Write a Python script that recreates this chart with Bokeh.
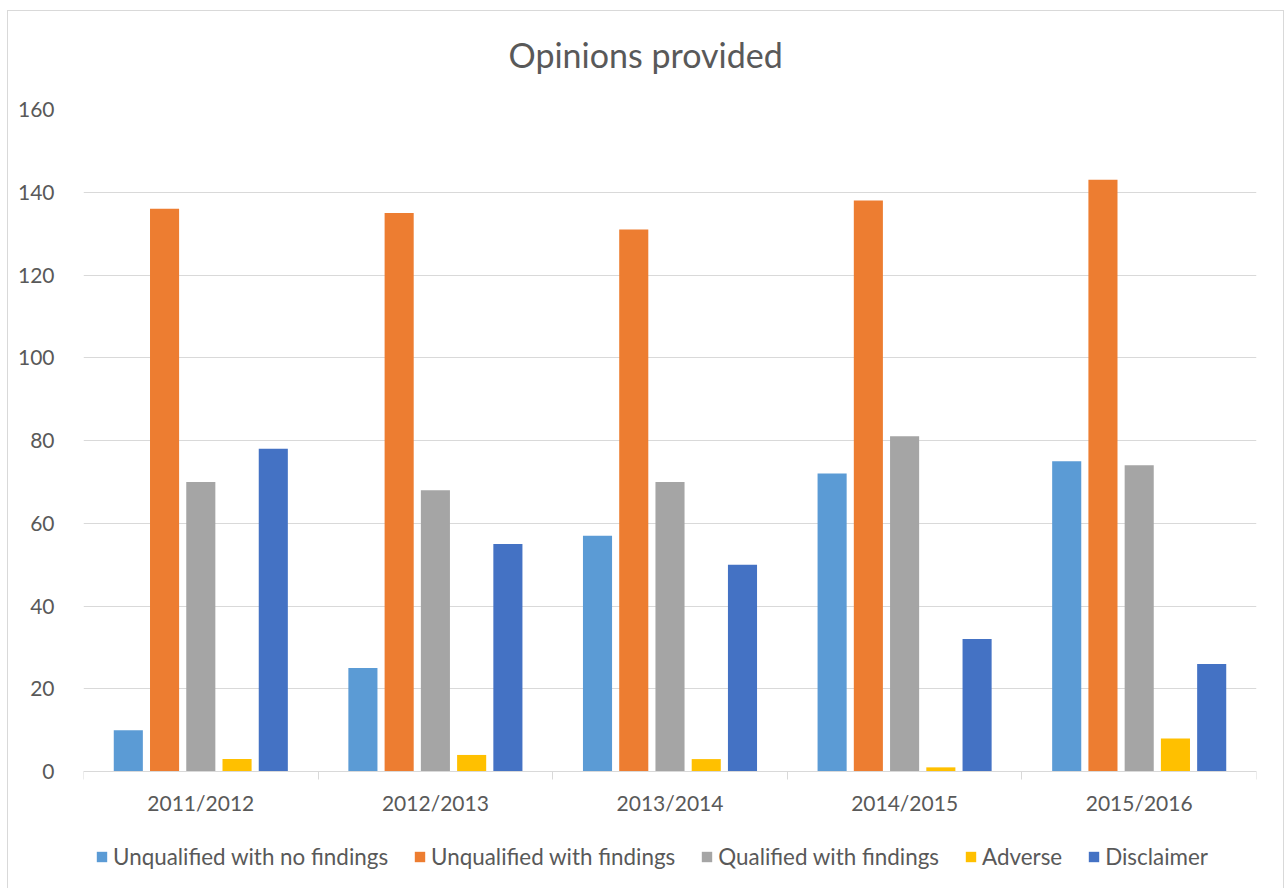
from bokeh.plotting import figure
from bokeh.models import ColumnDataSource, FixedTicker, Legend, LegendItem, Range1d, Title
from bokeh.embed import file_html
from bokeh.resources import INLINE

# Fiscal years and opinion counts per category
years = ["2011/2012", "2012/2013", "2013/2014", "2014/2015", "2015/2016"]
unqualified_no_findings = [10, 25, 57, 72, 75]
unqualified_with_findings = [136, 135, 131, 138, 143]
qualified_with_findings = [70, 68, 70, 81, 74]
adverse = [3, 4, 3, 1, 8]
disclaimer = [78, 55, 50, 32, 26]

series = [
    ("Unqualified with no findings", unqualified_no_findings, "#5B9BD5"),
    ("Unqualified with findings", unqualified_with_findings, "#ED7D31"),
    ("Qualified with findings", qualified_with_findings, "#A5A5A5"),
    ("Adverse", adverse, "#FFC000"),
    ("Disclaimer", disclaimer, "#4472C4"),
]
y_ticks = [0, 20, 40, 60, 80, 100, 120, 140, 160]

TEXT = "#595959"
GRID = "#D9D9D9"
FONT = "Lato"

# the plot area runs on below zero so the category labels and the legend
# sit inside it, underneath the zero line
FRAME_H = 780
VALUE_H = 662
y_start = -160 * (FRAME_H / VALUE_H - 1)

p = figure(
    frame_width=1173, frame_height=FRAME_H,
    x_range=Range1d(0, len(years)), y_range=Range1d(y_start, 160),
    output_backend="svg", toolbar_location=None,
    min_border_left=75, min_border_right=27, min_border_top=98, min_border_bottom=0,
)
p.margin = (10, 0, 0, 7)
p.styles = {"border": "1px solid #D9D9D9"}
p.outline_line_color = None
p.background_fill_color = "white"
p.border_fill_color = "white"

p.title.text = "Opinions provided"
p.title.align = "left"
p.title.offset = 425
p.title.text_font = FONT
p.title.text_font_size = "34px"
p.title.text_font_style = "normal"
p.title.text_color = TEXT
p.title.standoff = 10

# blank strip between the title and the plot area
p.add_layout(Title(text=" ", text_font_size="10px", standoff=17), "above")

bar_w = 0.124
step = 0.1545
items = []
for i, (name, vals, color) in enumerate(series):
    xs = [k + 0.5 + (i - 2) * step for k in range(len(years))]
    src = ColumnDataSource(dict(x=xs, top=vals))
    r = p.vbar(x="x", top="top", width=bar_w, bottom=0, source=src,
               fill_color=color, line_color=None)
    items.append(LegendItem(label=name, renderers=[r]))

# x axis on the zero line: labels at category centres, small ticks at boundaries
xt = FixedTicker(ticks=[k + 0.5 for k in range(len(years))],
                 minor_ticks=list(range(len(years) + 1)))
p.xaxis.fixed_location = 0
p.xaxis.ticker = xt
p.xaxis.major_label_overrides = {k + 0.5: y for k, y in enumerate(years)}
p.xaxis.major_tick_line_color = None
p.xaxis.minor_tick_line_color = GRID
p.xaxis.minor_tick_line_width = 1
p.xaxis.minor_tick_in = 0
p.xaxis.minor_tick_out = 8
p.xaxis.axis_line_color = GRID
p.xaxis.major_label_text_font = FONT
p.xaxis.major_label_text_font_size = "21px"
p.xaxis.major_label_text_color = TEXT
p.xaxis.major_label_standoff = 10

p.yaxis.ticker = FixedTicker(ticks=y_ticks)
p.yaxis.axis_line_color = None
p.yaxis.major_tick_line_color = None
p.yaxis.minor_tick_line_color = None
p.yaxis.major_label_text_font = FONT
p.yaxis.major_label_text_font_size = "21px"
p.yaxis.major_label_text_color = TEXT
p.yaxis.major_label_standoff = 23

p.xgrid.grid_line_color = None
p.ygrid.ticker = FixedTicker(ticks=y_ticks)
p.ygrid.grid_line_color = GRID
p.ygrid.grid_line_width = 1

legend = Legend(items=items, orientation="horizontal", location=(12, 19))
legend.label_text_font = FONT
legend.label_text_font_size = "22.4px"
legend.label_text_color = TEXT
legend.glyph_width = 13
legend.glyph_height = 13
legend.spacing = 25
legend.label_standoff = 5
legend.padding = 0
legend.margin = 0
legend.border_line_color = None
legend.background_fill_alpha = 0
p.add_layout(legend)

open("out.html", "w").write(file_html(p, INLINE))
